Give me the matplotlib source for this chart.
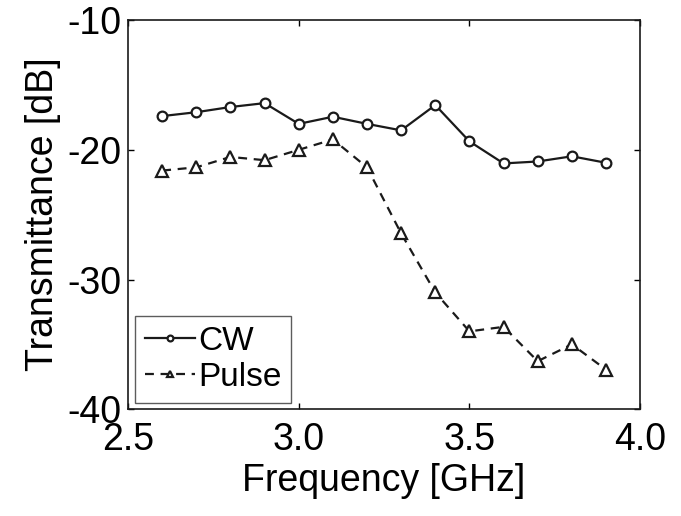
import matplotlib
matplotlib.use("Agg")
import matplotlib.pyplot as plt

plt.rcParams['font.family'] = ['Liberation Sans', 'DejaVu Sans']
plt.rcParams['axes.unicode_minus'] = False

freq = [2.6, 2.7, 2.8, 2.9, 3.0, 3.1, 3.2, 3.3, 3.4, 3.5, 3.6, 3.7, 3.8, 3.9]
cw = [-17.4, -17.1, -16.7, -16.4, -18.0, -17.45, -18.0, -18.5, -16.55, -19.35, -21.05, -20.9, -20.5, -21.0]
pulse = [-21.6, -21.35, -20.55, -20.8, -20.0, -19.2, -21.35, -26.45, -31.0, -34.0, -33.65, -36.3, -35.0, -36.95]
xticks = [2.5, 3.0, 3.5, 4.0]
yticks = [-40, -30, -20, -10]

fig = plt.figure(figsize=(6.81, 5.16), dpi=100)
ax = fig.add_axes([0.188, 0.207, 0.752, 0.754])

ax.plot(freq, cw, '-', color='#1a1a1a', lw=1.6, marker='o', ms=7,
        mfc='white', mec='#1a1a1a', mew=1.6, label='CW')
ax.plot(freq, pulse, '--', color='#1a1a1a', lw=1.6, marker='^', ms=8,
        mfc='white', mec='#1a1a1a', mew=1.6, label='Pulse', dashes=(4, 3))

ax.set_xlim(2.5, 4.0)
ax.set_ylim(-40, -10)
ax.set_xticks(xticks)
ax.set_xticklabels(['2.5', '3.0', '3.5', '4.0'])
ax.set_yticks(yticks)
ax.tick_params(direction='in', length=4, width=1, top=True, right=True,
               labelsize=27)
ax.tick_params(axis='x', pad=9)
ax.tick_params(axis='y', pad=5)
for s in ax.spines.values():
    s.set_linewidth(1.2)
    s.set_color('#1a1a1a')

ax.set_xlabel('Frequency [GHz]', fontsize=27, labelpad=4)
ax.set_ylabel('Transmittance [dB]', fontsize=27, labelpad=4)

leg = ax.legend(loc='lower left', fontsize=24, frameon=True, fancybox=False,
                edgecolor='#333333', handlelength=1.5, handletextpad=0.1,
                borderpad=0.3, borderaxespad=0.2, labelspacing=0.15,
                markerscale=0.6)
leg.get_frame().set_linewidth(1.0)

fig.savefig('out.png', dpi=100)
